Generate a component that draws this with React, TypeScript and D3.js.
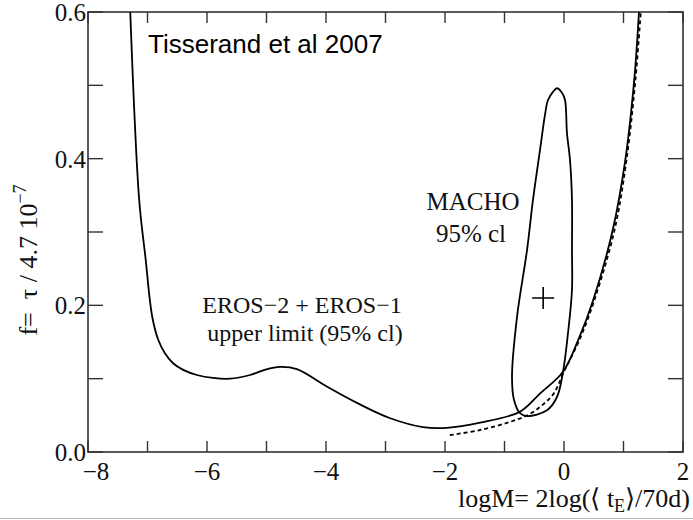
import React from 'react';
import * as d3 from 'd3';

// EROS-2 + EROS-1 upper limit (solid)
const erosX = [-7.29, -7.14, -7.03, -6.96, -6.91, -6.82, -6.71, -6.57, -6.40, -6.17, -5.90, -5.61, -5.28, -5.03, -4.77, -4.49, -3.98, -3.48, -2.92, -2.37, -1.97, -1.41, -0.74, -0.40, -0.02, 0.24, 0.49, 0.82, 1.03, 1.18, 1.26];
const erosY = [0.60, 0.344, 0.262, 0.207, 0.180, 0.153, 0.135, 0.121, 0.112, 0.105, 0.101, 0.100, 0.105, 0.112, 0.116, 0.113, 0.089, 0.067, 0.046, 0.034, 0.033, 0.040, 0.055, 0.080, 0.109, 0.153, 0.207, 0.303, 0.398, 0.507, 0.60];

// second limit (dashed)
const dashX = [-1.92, -1.41, -0.91, -0.57, -0.35, -0.17, -0.01, 0.26, 0.51, 0.85, 1.05, 1.20, 1.29];
const dashY = [0.023, 0.030, 0.041, 0.052, 0.065, 0.080, 0.108, 0.153, 0.207, 0.303, 0.398, 0.507, 0.60];

// MACHO 95% cl contour (closed)
const machoX = [-0.269, -0.185, -0.118, -0.034, 0.017, 0.050, 0.101, 0.134, 0.134, 0.134, 0.067, -0.017, -0.118, -0.286, -0.622, -0.739, -0.840, -0.874, -0.790, -0.622, -0.521, -0.403, -0.319];
const machoY = [0.480, 0.491, 0.496, 0.490, 0.480, 0.435, 0.398, 0.344, 0.275, 0.221, 0.162, 0.109, 0.075, 0.057, 0.049, 0.053, 0.071, 0.102, 0.184, 0.275, 0.344, 0.412, 0.460];

const machoBest = [-0.35, 0.21];

const xTicks = [-8, -7, -6, -5, -4, -3, -2, -1, 0, 1, 2];
const xLabels = [-8, -6, -4, -2, 0, 2];
const yTicks = [0, 0.1, 0.2, 0.3, 0.4, 0.5, 0.6];
const yLabels = [0, 0.2, 0.4, 0.6];

const W = 693;
const H = 520;
const left = 88;
const top = 12;
const right = 683;
const bottom = 452;

const serif = '"Liberation Serif", "Times New Roman", serif';
const sans = '"Liberation Sans", Arial, sans-serif';
const ink = '#111';

const fmtMinus = (v: number, d: number) => (v < 0 ? '\u2212' : '') + Math.abs(v).toFixed(d);

const App = () => {
  const x = d3.scaleLinear().domain([-8, 2]).range([left, right]);
  const y = d3.scaleLinear().domain([0, 0.6]).range([bottom, top]);

  const line = d3.line<[number, number]>()
    .x(d => x(d[0]))
    .y(d => y(d[1]))
    .curve(d3.curveCatmullRom.alpha(0.5));

  const closed = d3.line<[number, number]>()
    .x(d => x(d[0]))
    .y(d => y(d[1]))
    .curve(d3.curveCatmullRomClosed.alpha(0.5));

  const eros = erosX.map((v, i) => [v, erosY[i]] as [number, number]);
  const dash = dashX.map((v, i) => [v, dashY[i]] as [number, number]);
  const macho = machoX.map((v, i) => [v, machoY[i]] as [number, number]);

  const px = x(machoBest[0]);
  const py = y(machoBest[1]);

  return (
    <svg width={W} height={H} style={{ position: 'absolute', left: 0, top: 0, background: '#fff' }}>
      <defs>
        <clipPath id="plot">
          <rect x={left} y={top} width={right - left} height={bottom - top} />
        </clipPath>
      </defs>

      {/* frame */}
      <rect x={left} y={top} width={right - left} height={bottom - top} fill="none" stroke="#333" strokeWidth={1.6} />

      {/* ticks, inward on all four sides */}
      {xTicks.map(t => (
        <g key={'xt' + t} stroke="#333" strokeWidth={1.4}>
          <line x1={x(t)} x2={x(t)} y1={bottom} y2={bottom - 11} />
          <line x1={x(t)} x2={x(t)} y1={top} y2={top + 11} />
        </g>
      ))}
      {yTicks.map(t => (
        <g key={'yt' + t} stroke="#333" strokeWidth={1.4}>
          <line x1={left} x2={left + 15} y1={y(t)} y2={y(t)} />
          <line x1={right} x2={right - 15} y1={y(t)} y2={y(t)} />
        </g>
      ))}

      {/* tick labels */}
      {xLabels.map(t => (
        <text key={'xl' + t} x={x(t) + (t === -8 ? 8 : 0)} y={480} textAnchor="middle"
          fontFamily={serif} fontSize={25} fill={ink}>{fmtMinus(t, 0)}</text>
      ))}
      {yLabels.map(t => (
        <text key={'yl' + t} x={86} y={y(t) + 9} textAnchor="end"
          fontFamily={serif} fontSize={25} fill={ink}>{t.toFixed(1)}</text>
      ))}

      {/* axis titles */}
      <text x={690} y={507} textAnchor="end" fontFamily={serif} fontSize={26} fill={ink}>
        logM= 2log({'\u27E8'} t<tspan dy={5} fontSize={18}>E</tspan><tspan dy={-5}>{'\u27E9'}/70d)</tspan>
      </text>
      <text transform="translate(37,260) rotate(-90)" textAnchor="middle" fontFamily={serif} fontSize={26} fill={ink} xmlSpace="preserve">
        f=  τ / 4.7 10<tspan dy={-11} fontSize={18}>{'\u22127'}</tspan>
      </text>

      {/* curves */}
      <g clipPath="url(#plot)" fill="none" stroke="#000">
        <path d={line(dash) || ''} strokeWidth={1.8} strokeDasharray="4,3" />
        <path d={line(eros) || ''} strokeWidth={1.8} />
        <path d={closed(macho) || ''} strokeWidth={1.8} />
        <path d={`M${px - 11},${py}H${px + 11}M${px},${py - 11}V${py + 11}`} strokeWidth={1.6} />
      </g>

      {/* annotations */}
      <text x={148} y={53} fontFamily={sans} fontSize={26} fill="#000">Tisserand et al 2007</text>
      <text x={473} y={210} textAnchor="middle" fontFamily={serif} fontSize={25} fill={ink}>MACHO</text>
      <text x={471} y={242} textAnchor="middle" fontFamily={serif} fontSize={25} fill={ink}>95% cl</text>
      <text x={302} y={313} textAnchor="middle" fontFamily={serif} fontSize={24} fill={ink}>EROS{'\u2212'}2 + EROS{'\u2212'}1</text>
      <text x={305} y={341} textAnchor="middle" fontFamily={serif} fontSize={24} fill={ink}>upper limit (95% cl)</text>

      {/* bottom rule of the page */}
      <line x1={0} x2={W} y1={518.5} y2={518.5} stroke="#bbb" strokeWidth={1} />
    </svg>
  );
};

export default App;
